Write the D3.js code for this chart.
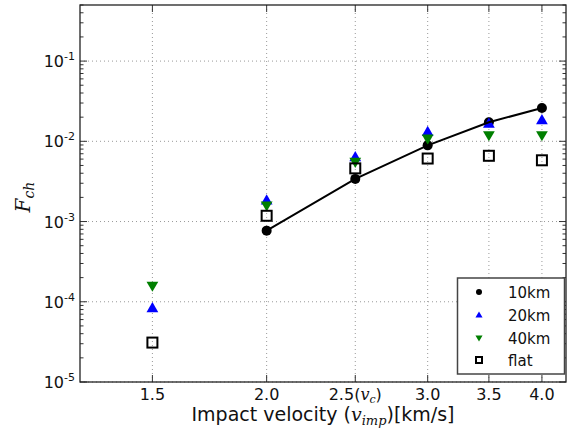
<!DOCTYPE html>
<html><head><meta charset="utf-8">
<script src="https://cdn.jsdelivr.net/npm/d3@7"></script>
<style>body{margin:0;background:#fff}svg{display:block}</style>
</head><body>
<svg id="c" width="579" height="433"></svg>
<script>
const velocities = [1.5, 2.0, 2.5, 3.0, 3.5, 4.0];
const xTickLabels = ["1.5", "2.0", "2.5", "3.0", "3.5", "4.0"];
const yTicks = [1e-5, 1e-4, 1e-3, 1e-2, 1e-1];
const yTickExponents = ["-5", "-4", "-3", "-2", "-1"];
const seriesNames = ["10km", "20km", "40km", "flat"];
const fch10km = [null, 7.7e-4, 3.4e-3, 8.9e-3, 0.0173, 0.026];
const fch20km = [8.4e-5, 1.85e-3, 6.4e-3, 0.0132, 0.0168, 0.0185];
const fch40km = [1.57e-4, 1.57e-3, 5.5e-3, 0.0107, 0.0118, 0.0118];
const fchFlat = [3.1e-5, 1.18e-3, 4.6e-3, 6.1e-3, 6.6e-3, 5.8e-3];

const svg = d3.select("#c");
const L = 80, R = 566, T = 5, B = 382;
const x = d3.scaleLog().domain([1.25, 4.25]).range([L, R]);
const y = d3.scaleLog().domain([1e-5, 0.5]).range([B, T]);
const sans = "DejaVu Sans";
const serif = "DejaVu Serif";

// grid
const g = svg.append("g");
g.selectAll(".gx").data(velocities).enter().append("line")
  .attr("x1", d => x(d)).attr("x2", d => x(d)).attr("y1", T).attr("y2", B)
  .attr("stroke", "#999").attr("stroke-width", 1).attr("stroke-dasharray", "1,3");
g.selectAll(".gy").data(yTicks).enter().append("line")
  .attr("x1", L).attr("x2", R).attr("y1", d => y(d)).attr("y2", d => y(d))
  .attr("stroke", "#999").attr("stroke-width", 1).attr("stroke-dasharray", "1,3");

// y ticks (major + minor), both sides, inward
const minor = [];
for (let e = -5; e <= -1; e++) for (let m = 2; m <= 9; m++) { const v = m * Math.pow(10, e); if (v <= 0.5) minor.push(v); }
[L, R].forEach((sx, i) => {
  const dir = i === 0 ? 1 : -1;
  g.selectAll(null).data(minor).enter().append("line")
    .attr("x1", sx).attr("x2", sx + dir * 3.5).attr("y1", d => y(d)).attr("y2", d => y(d))
    .attr("stroke", "#333").attr("stroke-width", 1);
  g.selectAll(null).data(yTicks).enter().append("line")
    .attr("x1", sx).attr("x2", sx + dir * 7).attr("y1", d => y(d)).attr("y2", d => y(d))
    .attr("stroke", "#333").attr("stroke-width", 1);
});
// x ticks top & bottom
[B, T].forEach((sy, i) => {
  const dir = i === 0 ? -1 : 1;
  g.selectAll(null).data(velocities).enter().append("line")
    .attr("x1", d => x(d)).attr("x2", d => x(d)).attr("y1", sy).attr("y2", sy + dir * 7)
    .attr("stroke", "#333").attr("stroke-width", 1);
});

// y tick labels
yTicks.forEach((v, i) => {
  const t = svg.append("text").attr("x", 75).attr("y", y(v) + 6)
    .attr("text-anchor", "end").attr("font-family", sans).attr("font-size", 16).attr("fill", "#111");
  t.append("tspan").text("10");
  t.append("tspan").attr("dy", -7).attr("font-size", 11).text(yTickExponents[i]);
});
// x tick labels
velocities.forEach((v, i) => {
  const t = svg.append("text").attr("x", x(v)).attr("y", 400)
    .attr("text-anchor", "middle").attr("font-family", sans).attr("font-size", 16).attr("fill", "#111");
  t.append("tspan").text(xTickLabels[i]);
  if (v === 2.5) {
    t.append("tspan").text("(");
    t.append("tspan").attr("font-family", serif).attr("font-style", "italic").text("v");
    t.append("tspan").attr("font-family", serif).attr("font-style", "italic").attr("font-size", 11).attr("dy", 3).text("c");
    t.append("tspan").attr("dy", -3).text(")");
  }
});
// x axis label
{
  const t = svg.append("text").attr("x", (L + R) / 2).attr("y", 421)
    .attr("text-anchor", "middle").attr("font-family", sans).attr("font-size", 19).attr("fill", "#111");
  t.append("tspan").text("Impact velocity (");
  t.append("tspan").attr("font-family", serif).attr("font-style", "italic").text("v");
  t.append("tspan").attr("font-family", serif).attr("font-style", "italic").attr("font-size", 13).attr("dy", 4).text("imp");
  t.append("tspan").attr("dy", -4).text(")[km/s]");
}
// y axis label
{
  const t = svg.append("text").attr("transform", "translate(30,197) rotate(-90)")
    .attr("text-anchor", "middle").attr("font-family", serif).attr("font-style", "italic").attr("font-size", 20).attr("fill", "#111");
  t.append("tspan").text("F");
  t.append("tspan").attr("font-size", 14).attr("dy", 4).text("ch");
}

// markers
const pts = (arr) => velocities.map((v, i) => ({ v, f: arr[i] })).filter(d => d.f != null);
const tri = d3.symbol().type(d3.symbolTriangle).size(60)();
svg.append("g").selectAll("circle").data(pts(fch10km)).enter().append("circle")
  .attr("cx", d => x(d.v)).attr("cy", d => y(d.f)).attr("r", 5).attr("fill", "#000");
svg.append("g").selectAll("path").data(pts(fch20km)).enter().append("path")
  .attr("d", tri).attr("transform", d => `translate(${x(d.v)},${y(d.f) + 1})`).attr("fill", "#0000ff");
svg.append("g").selectAll("path").data(pts(fch40km)).enter().append("path")
  .attr("d", tri).attr("transform", d => `translate(${x(d.v)},${y(d.f) - 1}) rotate(180)`).attr("fill", "#007f00");
svg.append("g").selectAll("rect").data(pts(fchFlat)).enter().append("rect")
  .attr("x", d => x(d.v) - 5).attr("y", d => y(d.f) - 5).attr("width", 10).attr("height", 10)
  .attr("fill", "none").attr("stroke", "#000").attr("stroke-width", 2);
// line for 10km
svg.append("path").datum(pts(fch10km))
  .attr("d", d3.line().x(d => x(d.v)).y(d => y(d.f)))
  .attr("fill", "none").attr("stroke", "#000").attr("stroke-width", 2);

// frame
svg.append("rect").attr("x", L).attr("y", T).attr("width", R - L).attr("height", B - T)
  .attr("fill", "none").attr("stroke", "#222").attr("stroke-width", 1.3);

// legend
const lg = svg.append("g");
lg.append("rect").attr("x", 457.5).attr("y", 278).attr("width", 107).attr("height", 96)
  .attr("fill", "#fff").attr("stroke", "#444").attr("stroke-width", 1.5);
const ly = [292, 315, 338, 360];
seriesNames.forEach((n, i) => {
  const cx = 479, cy = ly[i];
  if (i === 0) lg.append("circle").attr("cx", cx).attr("cy", cy).attr("r", 3).attr("fill", "#000");
  if (i === 1) lg.append("path").attr("d", d3.symbol().type(d3.symbolTriangle).size(22)()).attr("transform", `translate(${cx},${cy + 0.5})`).attr("fill", "#0000ff");
  if (i === 2) lg.append("path").attr("d", d3.symbol().type(d3.symbolTriangle).size(22)()).attr("transform", `translate(${cx},${cy - 0.5}) rotate(180)`).attr("fill", "#007f00");
  if (i === 3) lg.append("rect").attr("x", cx - 3).attr("y", cy - 3).attr("width", 6).attr("height", 6).attr("fill", "none").attr("stroke", "#000").attr("stroke-width", 2);
  lg.append("text").attr("x", 508).attr("y", cy + 5.5).attr("font-family", sans).attr("font-size", 15).attr("fill", "#111").text(n);
});
</script>
</body></html>
